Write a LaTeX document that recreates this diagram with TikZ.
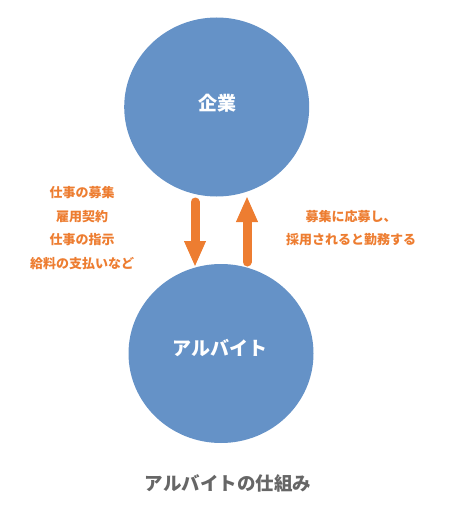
\documentclass[tikz,border=0pt]{standalone}
\usepackage{fontspec}
\newfontfamily\jp{Noto Sans CJK JP}
\usetikzlibrary{arrows.meta,shapes.geometric}
\definecolor{cblue}{HTML}{6592C7}
\definecolor{corange}{HTML}{ED7D31}
\definecolor{cgray}{HTML}{666666}
\begin{document}
\begin{tikzpicture}[x=1pt,y=-1pt,
  circ/.style={ellipse,fill=cblue,draw=none,minimum width=185pt,minimum height=179pt,inner sep=0pt},
  ctext/.style={font=\jp\bfseries\fontsize{19}{22}\selectfont,text=white},
  otext/.style={font=\jp\bfseries\fontsize{13}{23.4}\selectfont,text=corange,align=center},
  flow/.style={draw=corange,line width=9pt,line cap=round,-{Triangle[width=20pt,length=26pt,line cap=butt]}}]
\useasboundingbox (0,0) rectangle (450,524);
\node[circ] (company) at (216.7,107) {};
\node[ctext] (companyt) at (217,103) {企業};
\node[circ] (parttime) at (221,353.5) {};
\node[ctext] (parttimet) at (220,348) {アルバイト};
\coordinate (d1) at (195,202);
\coordinate (d2) at (195,267);
\coordinate (u1) at (247,262);
\coordinate (u2) at (247,196);
\draw[flow] (d1) -- (d2);
\draw[flow] (u1) -- (u2);
\node[otext] (left) at (82,228) {仕事の募集\\雇用契約\\仕事の指示\\給料の支払いなど};
\node[otext] (right) at (351,228) {募集に応募し、\\採用されると勤務する};
\node[font=\jp\bfseries\fontsize{18.5}{22}\selectfont,text=cgray] (title) at (228,483) {アルバイトの仕組み};
\end{tikzpicture}
\end{document}
